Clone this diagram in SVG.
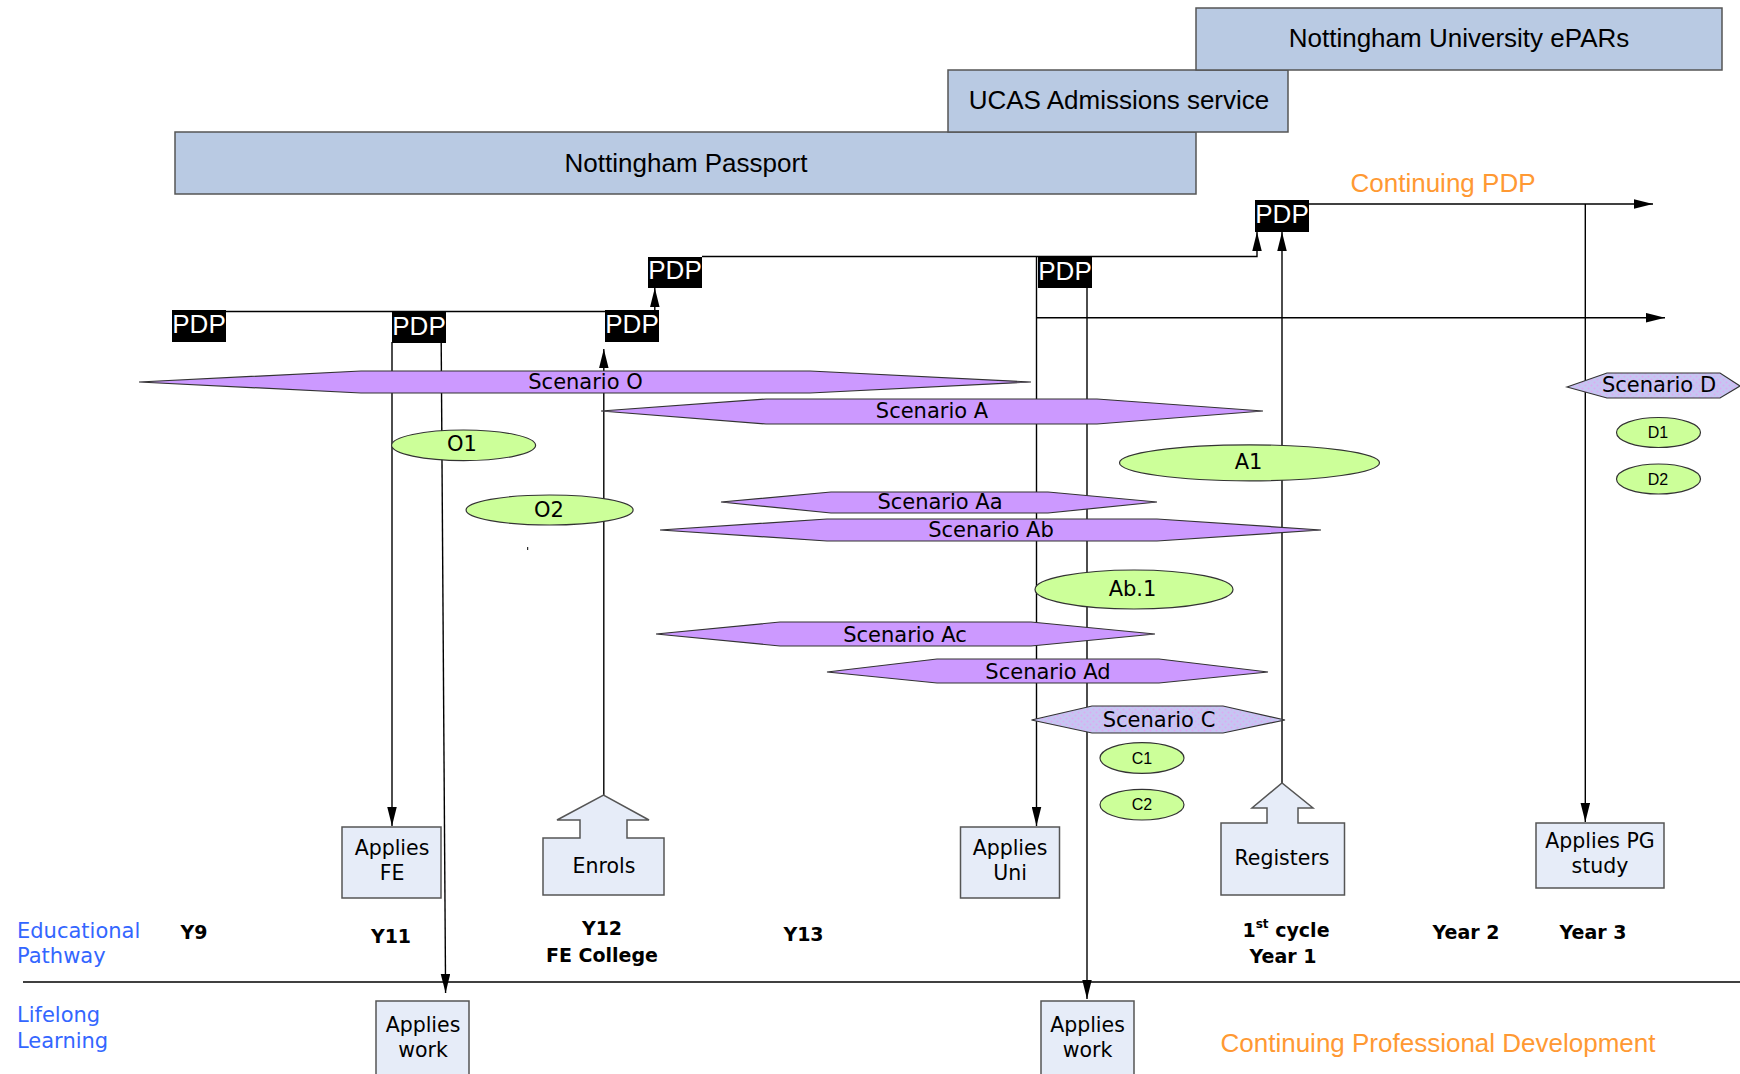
<svg xmlns="http://www.w3.org/2000/svg" width="1740" height="1074" viewBox="0 0 1740 1074">
<style>
.band{fill:#B9CAE3;stroke:#555;stroke-width:1.5}
.bandt{font-family:"Liberation Sans",Arial,sans-serif;font-size:26px;fill:#000;text-anchor:middle}
.pdp{fill:#000}
.pdpt{font-family:"Liberation Sans",Arial,sans-serif;font-size:26px;fill:#fff;text-anchor:middle}
.scen{fill:#CC99FF;stroke:#333;stroke-width:1.2}
.scen2{fill:url(#dots);stroke:#333;stroke-width:1.2}
.st{font-family:"DejaVu Sans",Verdana,sans-serif;font-size:21px;fill:#000;text-anchor:middle}
.ell{fill:#CCFF99;stroke:#333;stroke-width:1.2}
.et{font-family:"DejaVu Sans",Verdana,sans-serif;font-size:21px;fill:#000;text-anchor:middle}
.es{font-family:"Liberation Sans",Arial,sans-serif;font-size:16px;fill:#000;text-anchor:middle}
.box{fill:#E6ECF8;stroke:#555;stroke-width:1.5}
.bt{font-family:"DejaVu Sans",Verdana,sans-serif;font-size:20.5px;fill:#000;text-anchor:middle}
.yr{font-family:"DejaVu Sans",Verdana,sans-serif;font-size:19px;font-weight:bold;fill:#000;text-anchor:middle}
.blue{font-family:"DejaVu Sans",Verdana,sans-serif;font-size:21px;fill:#3366FF}
.orange{font-family:"Liberation Sans",Arial,sans-serif;font-size:26px;fill:#FF9933;text-anchor:middle}
.ln{fill:none;stroke:#000;stroke-width:1.4}
</style>
<defs>
<marker id="ah" viewBox="0 0 20 10" markerWidth="19" markerHeight="10" refX="20" refY="5" orient="auto" markerUnits="userSpaceOnUse">
<path d="M0,0 L20,5 L0,10 Z" fill="#000"/>
</marker>
<pattern id="dots" width="6" height="6" patternUnits="userSpaceOnUse">
<rect width="6" height="6" fill="#C6C6F2"/>
<circle cx="1.5" cy="1.5" r="1" fill="#DDAAF2"/>
<circle cx="4.5" cy="4.5" r="1" fill="#DDAAF2"/>
</pattern>
</defs>

<g id="connectors">
<path class="ln" d="M226,311.5 H605"/>
<path class="ln" d="M654.8,310 V288" marker-end="url(#ah)"/>
<path class="ln" d="M702,256.5 H1257 V232" marker-end="url(#ah)"/>
<path class="ln" d="M1309,204 H1653" marker-end="url(#ah)"/>
<path class="ln" d="M1585.3,204 V822" marker-end="url(#ah)"/>
<path class="ln" d="M1282,783 V232" marker-end="url(#ah)"/>
<path class="ln" d="M1036.5,256.5 V826" marker-end="url(#ah)"/>
<path class="ln" d="M1036.5,317.7 H1665" marker-end="url(#ah)"/>
<path class="ln" d="M1087,288 V999" marker-end="url(#ah)"/>
<path class="ln" d="M392,342 V826" marker-end="url(#ah)"/>
<path class="ln" d="M441.2,342 L445.6,993" marker-end="url(#ah)"/>
<path class="ln" d="M603.8,795 V349" marker-end="url(#ah)"/>
<path class="ln" d="M23,982 H1740" stroke-width="1.6"/>
<path d="M527.7,547 V550" stroke="#000" stroke-width="1"/>
</g>

<g id="nottingham-passport"><rect class="band" x="175" y="132" width="1021" height="62"/><text class="bandt" x="686" y="172">Nottingham Passport</text></g>
<g id="ucas"><rect class="band" x="948" y="70" width="340" height="62"/><text class="bandt" x="1119" y="109">UCAS Admissions service</text></g>
<g id="epars"><rect class="band" x="1196" y="8" width="526" height="62"/><text class="bandt" x="1459" y="47">Nottingham University ePARs</text></g>

<g id="continuing-pdp"><text class="orange" x="1443" y="192">Continuing PDP</text></g>

<g id="pdp1"><rect class="pdp" x="172" y="310" width="54" height="32"/><text class="pdpt" x="199" y="333">PDP</text></g>
<g id="pdp2"><rect class="pdp" x="392" y="312" width="54" height="31"/><text class="pdpt" x="419" y="335">PDP</text></g>
<g id="pdp3"><rect class="pdp" x="605" y="310" width="54" height="32"/><text class="pdpt" x="632" y="333">PDP</text></g>
<g id="pdp4"><rect class="pdp" x="648" y="257" width="54" height="31"/><text class="pdpt" x="675" y="279">PDP</text></g>
<g id="pdp5"><rect class="pdp" x="1038" y="257" width="54" height="31"/><text class="pdpt" x="1065" y="280">PDP</text></g>
<g id="pdp6"><rect class="pdp" x="1255" y="200" width="54" height="32"/><text class="pdpt" x="1282" y="223">PDP</text></g>

<g id="scenario-o"><path class="scen" d="M139,382 L361,371 H810 L1031,382 L810,393 H361 Z"/><text class="st" x="585.5" y="389">Scenario O</text></g>
<g id="scenario-a"><path class="scen" d="M601,411 L766,399 H1097 L1263,411 L1097,424 H766 Z"/><text class="st" x="932" y="418">Scenario A</text></g>
<g id="scenario-d"><path class="scen2" d="M1567,387 L1607,373 H1720 L1740,386 L1720,398 H1607 Z"/><text class="st" x="1659" y="392">Scenario D</text></g>
<g id="o1"><ellipse class="ell" cx="463.6" cy="445.3" rx="72" ry="15.3"/><text class="et" x="462" y="451">O1</text></g>
<g id="a1"><ellipse class="ell" cx="1249.5" cy="462.8" rx="130" ry="18"/><text class="et" x="1248.5" y="468.5">A1</text></g>
<g id="d1"><ellipse class="ell" cx="1658.5" cy="432.5" rx="42" ry="15"/><text class="es" x="1658" y="438">D1</text></g>
<g id="d2"><ellipse class="ell" cx="1658.5" cy="479" rx="42" ry="15"/><text class="es" x="1658" y="484.5">D2</text></g>
<g id="o2"><ellipse class="ell" cx="549.6" cy="510" rx="83.5" ry="15"/><text class="et" x="549" y="516.5">O2</text></g>
<g id="scenario-aa"><path class="scen" d="M721,502 L831,492 H1048 L1157,502 L1048,513 H831 Z"/><text class="st" x="940" y="508.5">Scenario Aa</text></g>
<g id="scenario-ab"><path class="scen" d="M660,530 L827,519 H1157 L1321,530 L1157,541 H827 Z"/><text class="st" x="991" y="537">Scenario Ab</text></g>
<g id="ab1"><ellipse class="ell" cx="1134" cy="589.5" rx="99" ry="19.5"/><text class="et" x="1132.5" y="596">Ab.1</text></g>
<g id="scenario-ac"><path class="scen" d="M656,634 L780,622 H1031 L1155,634 L1031,646 H780 Z"/><text class="st" x="905" y="642">Scenario Ac</text></g>
<g id="scenario-ad"><path class="scen" d="M827,672 L937,659 H1159 L1268,672 L1159,683 H937 Z"/><text class="st" x="1048" y="678.5">Scenario Ad</text></g>
<g id="scenario-c"><path class="scen2" d="M1031.5,720 L1092,706 H1223 L1285,720 L1223,733 H1092 Z"/><text class="st" x="1159" y="727">Scenario C</text></g>
<g id="c1"><ellipse class="ell" cx="1142" cy="758" rx="42" ry="15.3"/><text class="es" x="1142" y="763.5">C1</text></g>
<g id="c2"><ellipse class="ell" cx="1142" cy="804.7" rx="42" ry="15.3"/><text class="es" x="1142" y="810">C2</text></g>

<g id="applies-fe"><rect class="box" x="342" y="827" width="99" height="71"/><text class="bt" x="392" y="855">Applies</text><text class="bt" x="392" y="880">FE</text></g>
<g id="enrols"><path class="box" d="M543,838 H580 V820 H557 L603.5,795 L649,820 H627 V838 H664 V895 H543 Z"/><text class="bt" x="604" y="873">Enrols</text></g>
<g id="applies-uni"><rect class="box" x="960.5" y="827" width="99" height="71"/><text class="bt" x="1010" y="855">Applies</text><text class="bt" x="1010" y="880">Uni</text></g>
<g id="registers"><path class="box" d="M1221,823 H1267 V808 H1252 L1282,783 L1313,808 H1298 V823 H1344.5 V895 H1221 Z"/><text class="bt" x="1282" y="865">Registers</text></g>
<g id="applies-pg"><rect class="box" x="1536" y="823" width="128" height="65"/><text class="bt" x="1600" y="848">Applies PG</text><text class="bt" x="1600" y="873">study</text></g>
<g id="applies-work-1"><rect class="box" x="376" y="1001" width="93" height="80"/><text class="bt" x="423" y="1032">Applies</text><text class="bt" x="423" y="1057">work</text></g>
<g id="applies-work-2"><rect class="box" x="1041" y="1001" width="93" height="80"/><text class="bt" x="1087.5" y="1032">Applies</text><text class="bt" x="1087.5" y="1057">work</text></g>

<g id="labels">
<text class="blue" x="17" y="938">Educational</text>
<text class="blue" x="17" y="963">Pathway</text>
<text class="blue" x="17" y="1022">Lifelong</text>
<text class="blue" x="17" y="1048">Learning</text>
<text class="yr" x="194" y="939">Y9</text>
<text class="yr" x="391" y="943">Y11</text>
<text class="yr" x="602" y="935">Y12</text>
<text class="yr" x="602" y="962">FE College</text>
<text class="yr" x="803.5" y="941">Y13</text>
<text class="yr" x="1286" y="937">1<tspan font-size="12" dy="-9">st</tspan><tspan dy="9"> cycle</tspan></text>
<text class="yr" x="1283" y="963">Year 1</text>
<text class="yr" x="1466" y="939">Year 2</text>
<text class="yr" x="1593" y="939">Year 3</text>
<text class="orange" x="1438" y="1052">Continuing Professional Development</text>
</g>
</svg>
